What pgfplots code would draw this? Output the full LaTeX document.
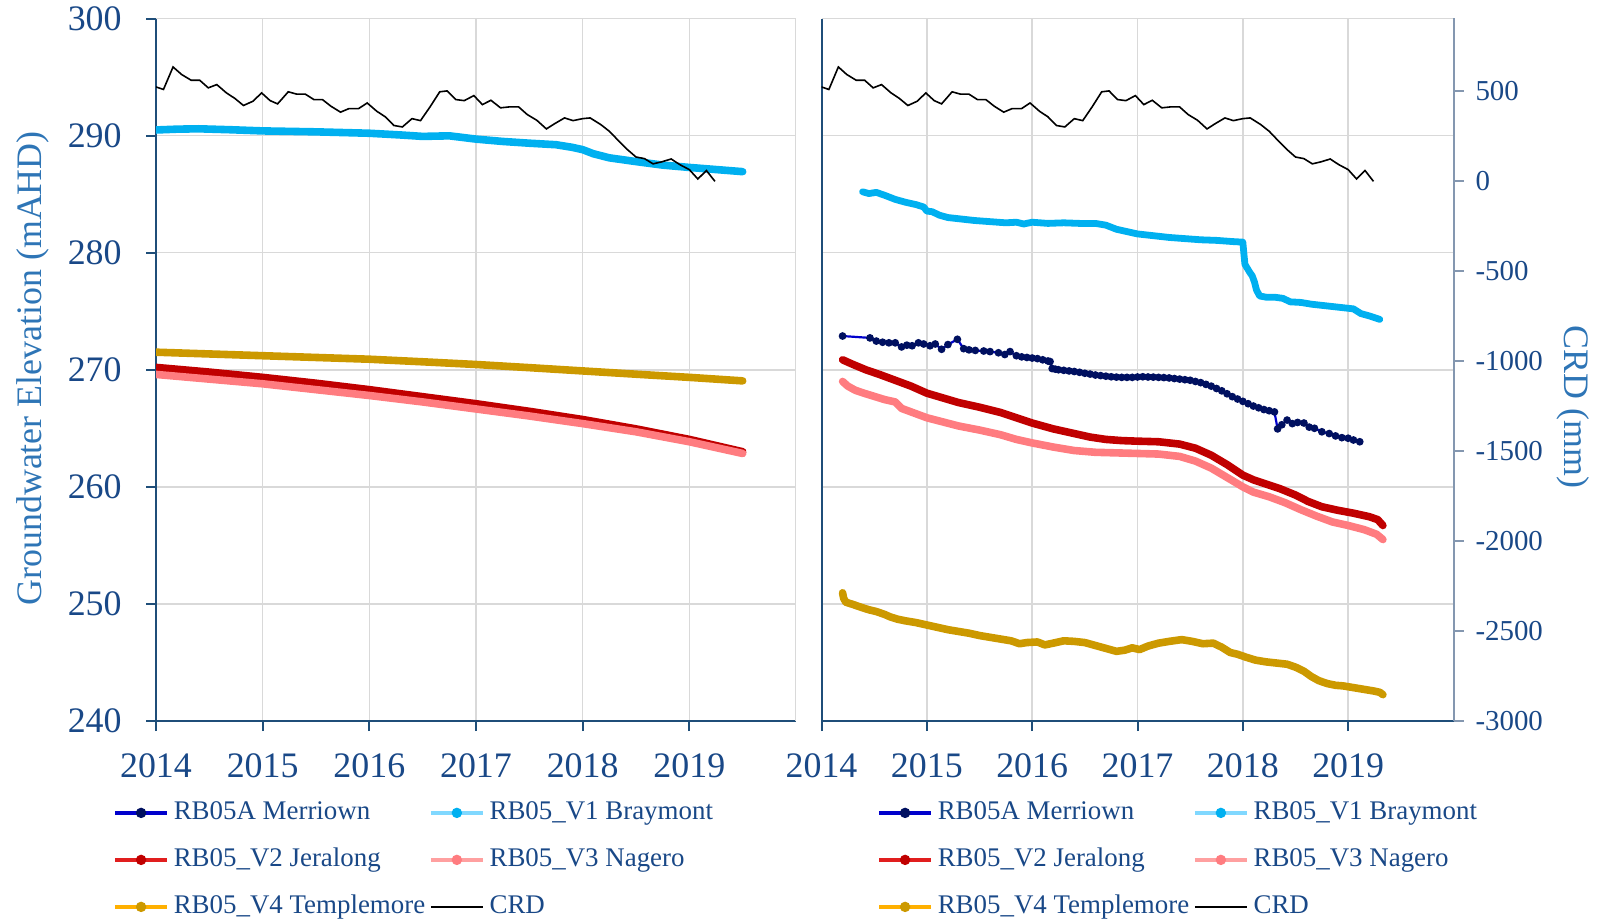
\documentclass[border=0pt]{standalone}
\usepackage{fontspec}
\setmainfont{Liberation Serif}
\usepackage{pgfplots}
\pgfplotsset{compat=1.18}
\definecolor{tickblue}{RGB}{25,72,135}
\definecolor{titleblue}{RGB}{46,117,182}
\definecolor{gridgray}{RGB}{217,217,217}
\definecolor{axisblue}{RGB}{31,78,121}
\definecolor{raxis}{RGB}{132,151,176}
\definecolor{cBray}{RGB}{0,176,240}
\definecolor{cBrayL}{RGB}{128,216,255}
\definecolor{cJer}{RGB}{192,0,0}
\definecolor{cJerL}{RGB}{225,30,30}
\definecolor{cNag}{RGB}{255,124,128}
\definecolor{cNagL}{RGB}{255,160,160}
\definecolor{cTem}{RGB}{204,153,0}
\definecolor{cTemL}{RGB}{255,176,0}
\definecolor{cMerM}{RGB}{0,16,96}
\definecolor{cMerL}{RGB}{0,0,204}

\pgfplotstableread{
x y
2014.00 520
2014.07 506
2014.16 631
2014.24 589
2014.33 557
2014.41 557
2014.49 515
2014.57 533
2014.66 487
2014.74 456
2014.82 417
2014.91 441
2014.99 487
2015.07 444
2015.14 426
2015.24 493
2015.32 480
2015.40 480
2015.48 450
2015.56 450
2015.64 413
2015.73 380
2015.81 400
2015.90 400
2015.98 431
2016.07 385
2016.15 354
2016.23 306
2016.31 298
2016.40 344
2016.48 333
2016.57 410
2016.66 493
2016.73 498
2016.81 450
2016.89 444
2016.98 472
2017.06 422
2017.14 446
2017.23 404
2017.31 409
2017.40 409
2017.48 367
2017.57 335
2017.66 287
2017.74 317
2017.83 348
2017.91 333
2018.00 344
2018.07 348
2018.17 311
2018.25 274
2018.34 219
2018.42 172
2018.50 131
2018.58 122
2018.66 93
2018.74 104
2018.83 120
2018.91 89
2019.00 61
2019.08 9
2019.16 56
2019.24 -4
}\crd

\pgfplotsset{
  base/.style={scale only axis, width=320bp, height=351.25bp,
    xmin=2014, xmax=2020, ymin=240, ymax=300,
    axis x line*=bottom, axis y line*=left,
    axis line style={axisblue, line width=1bp, -},
    xtick={2014,2015,2016,2017,2018,2019},
    xticklabels={2014,2015,2016,2017,2018,2019},
    ytick={240,250,260,270,280,290,300},
    grid=major, major grid style={gridgray, line width=0.8bp},
    tick align=outside, major tick length=5bp,
    tick style={axisblue, line width=1bp},
    tick label style={font=\fontsize{18}{18}\selectfont, text=tickblue},
    xticklabel style={yshift=-7.7bp},
    yticklabel style={xshift=-8.7bp},
    legend columns=2, legend cell align=left,
    legend style={draw=none, fill=none, anchor=north west,
      font=\fontsize{13.5}{13.5}\selectfont, text=tickblue, inner sep=0pt,
      row sep=12bp, nodes={inner sep=0pt, text height=9bp, text depth=2.5bp},
      /tikz/every odd column/.append style={column sep=2.5bp},
      /tikz/every even column/.append style={column sep=2bp}},
    legend image code/.code={\draw[mark repeat=2,mark phase=2,##1] plot coordinates {(0bp,0bp) (13bp,0bp) (26bp,0bp)};},
  },
  gw/.style={line width=3.8bp, line join=round, line cap=round, no markers, forget plot},
  sec/.style={scale only axis, height=351.25bp, xmin=2014, xmax=2020, ymin=-3000, ymax=900},
}
\newcommand{\legimgs}{%
  \addlegendimage{cMerL, line width=1.7bp, mark=*, mark size=1.7bp, mark options={fill=cMerM, draw=cMerM}}
  \addlegendentry{RB05A Merriown}
  \addlegendimage{cBrayL, line width=1.7bp, mark=*, mark size=1.7bp, mark options={fill=cBray, draw=cBray}}
  \addlegendentry{RB05\_V1 Braymont}
  \addlegendimage{cJerL, line width=1.7bp, mark=*, mark size=1.7bp, mark options={fill=cJer, draw=cJer}}
  \addlegendentry{RB05\_V2 Jeralong}
  \addlegendimage{cNagL, line width=1.7bp, mark=*, mark size=1.7bp, mark options={fill=cNag, draw=cNag}}
  \addlegendentry{RB05\_V3 Nagero}
  \addlegendimage{cTemL, line width=1.7bp, mark=*, mark size=1.7bp, mark options={fill=cTem, draw=cTem}}
  \addlegendentry{RB05\_V4 Templemore}
  \addlegendimage{black, line width=1.2bp}
  \addlegendentry{CRD}
}

\begin{document}
\begin{tikzpicture}
\useasboundingbox (-78bp,-99bp) rectangle (726bp,360.5bp);

% ---------------- Left panel ----------------
\begin{axis}[base, at={(0,0)},
  yticklabels={240,250,260,270,280,290,300},
  ylabel={Groundwater Elevation (mAHD)},
  ylabel style={at={(axis description cs:-0.192,0.502)}, anchor=center,
    font=\fontsize{18}{18}\selectfont, text=titleblue},
  legend style={at={(axis description cs:0,0)}, xshift=-21.5bp, yshift=-40bp}]
\legimgs
\draw[gridgray, line width=0.8bp] (axis cs:2020,240) -- (axis cs:2020,300);
\addplot[gw, cBray] coordinates {
(2014.0,290.48) (2014.2,290.55) (2014.4,290.58) (2014.7,290.5) (2015.0,290.4)
(2015.5,290.32) (2016.0,290.2) (2016.3,290.05) (2016.5,289.93) (2016.75,289.98)
(2017.0,289.7) (2017.25,289.5) (2017.5,289.35) (2017.75,289.22) (2017.9,289.0)
(2018.0,288.8) (2018.1,288.45) (2018.25,288.1) (2018.5,287.78) (2018.75,287.48)
(2019.0,287.28) (2019.25,287.1) (2019.5,286.92)};
\addplot[gw, cJer] coordinates {
(2014.0,270.2) (2014.5,269.8) (2015.0,269.35) (2015.5,268.85) (2016.0,268.3)
(2016.5,267.7) (2017.0,267.1) (2017.5,266.45) (2018.0,265.75) (2018.5,264.95)
(2019.0,264.05) (2019.5,263.0)};
\addplot[gw, cNag] coordinates {
(2014.0,269.6) (2014.5,269.2) (2015.0,268.8) (2015.5,268.3) (2016.0,267.8)
(2016.5,267.25) (2017.0,266.65) (2017.5,266.05) (2018.0,265.4) (2018.5,264.7)
(2019.0,263.85) (2019.5,262.85)};
\addplot[gw, cTem] coordinates {
(2014.0,271.5) (2014.5,271.35) (2015.0,271.2) (2015.5,271.05) (2016.0,270.9)
(2016.5,270.68) (2017.0,270.45) (2017.5,270.18) (2018.0,269.9) (2018.5,269.62)
(2019.0,269.35) (2019.5,269.05)};
\end{axis}
\begin{axis}[sec, at={(0,0)}, width=320bp, hide axis]
\addplot[black, line width=0.8bp, no markers] table[x=x,y=y] {\crd};
\end{axis}

% ---------------- Right panel ----------------
\begin{axis}[base, at={(332.75bp,0)}, width=316bp,
  yticklabels={}, every major y tick/.append style={draw=none},
  legend style={at={(axis description cs:0,0)}, xshift=27.75bp, yshift=-40bp}]
\legimgs
\addplot[cMerL, line width=1.1bp, mark=*, mark size=1.35bp,
  mark options={fill=cMerM, draw=cMerM}, forget plot] coordinates {
(2014.20,272.88) (2014.46,272.72) (2014.52,272.45) (2014.58,272.35) (2014.64,272.3)
(2014.70,272.3) (2014.76,271.95) (2014.81,272.1) (2014.86,272.05) (2014.92,272.3)
(2014.97,272.2) (2015.03,272.05) (2015.08,272.2) (2015.14,271.75) (2015.20,272.15)
(2015.29,272.6) (2015.35,271.8) (2015.40,271.7) (2015.46,271.65) (2015.54,271.6)
(2015.60,271.55) (2015.68,271.45) (2015.74,271.3) (2015.79,271.55) (2015.85,271.2)
(2015.90,271.1) (2015.95,271.05) (2016.00,271.0) (2016.05,270.95) (2016.10,270.85)
(2016.15,270.75) (2016.17,270.7) (2016.19,270.1) (2016.22,270.05) (2016.25,270.0) (2016.30,269.95)
(2016.35,269.9) (2016.40,269.85) (2016.45,269.78) (2016.50,269.7) (2016.55,269.63)
(2016.60,269.55) (2016.65,269.5) (2016.70,269.45) (2016.75,269.4) (2016.80,269.37)
(2016.85,269.35) (2016.90,269.35) (2016.95,269.35) (2017.00,269.38) (2017.05,269.4)
(2017.10,269.38) (2017.15,269.37) (2017.20,269.35) (2017.25,269.33) (2017.30,269.3)
(2017.35,269.25) (2017.40,269.2) (2017.45,269.15) (2017.50,269.1) (2017.55,269.0)
(2017.60,268.9) (2017.65,268.75) (2017.70,268.6) (2017.75,268.4) (2017.80,268.2)
(2017.85,267.95) (2017.90,267.7) (2017.95,267.5) (2018.00,267.3) (2018.05,267.1)
(2018.10,266.9) (2018.15,266.75) (2018.20,266.6) (2018.25,266.5) (2018.30,266.4)
(2018.33,264.95) (2018.37,265.3) (2018.42,265.7) (2018.47,265.4) (2018.52,265.5)
(2018.58,265.45) (2018.63,265.1) (2018.68,265.0) (2018.75,264.7) (2018.82,264.55)
(2018.88,264.35) (2018.94,264.2) (2019.00,264.15) (2019.05,264.0) (2019.11,263.85)};
\addplot[gw, cBray, line width=3.4bp] coordinates {
(2014.39,285.2) (2014.45,285.05) (2014.52,285.15) (2014.60,284.9) (2014.70,284.55)
(2014.80,284.3) (2014.90,284.1) (2014.97,283.9) (2015.00,283.55) (2015.05,283.5)
(2015.12,283.2) (2015.20,283.0) (2015.30,282.9) (2015.45,282.75) (2015.60,282.65)
(2015.75,282.55) (2015.85,282.6) (2015.92,282.45) (2016.00,282.6) (2016.15,282.5)
(2016.30,282.55) (2016.45,282.5) (2016.60,282.5) (2016.70,282.35) (2016.80,282.0)
(2016.90,281.8) (2017.00,281.6) (2017.15,281.45) (2017.30,281.3) (2017.45,281.2)
(2017.60,281.1) (2017.75,281.05) (2017.90,280.95) (2018.00,280.9) (2018.01,279.9)
(2018.02,279.0) (2018.04,278.7) (2018.06,278.4) (2018.09,278.0) (2018.11,277.5)
(2018.13,276.8) (2018.16,276.3) (2018.22,276.2) (2018.30,276.2) (2018.38,276.1)
(2018.45,275.8) (2018.55,275.75) (2018.65,275.6) (2018.80,275.45) (2018.95,275.3)
(2019.05,275.2) (2019.12,274.8) (2019.20,274.6) (2019.30,274.3)};
\addplot[gw, cJer] coordinates {
(2014.20,270.85) (2014.30,270.45) (2014.42,270.0) (2014.55,269.6) (2014.70,269.1)
(2014.85,268.6) (2015.00,268.0) (2015.15,267.6) (2015.30,267.2) (2015.50,266.8)
(2015.70,266.35) (2015.85,265.9) (2016.00,265.45) (2016.20,264.95) (2016.40,264.55)
(2016.55,264.25) (2016.70,264.05) (2016.85,263.95) (2017.00,263.9) (2017.20,263.85)
(2017.40,263.65) (2017.55,263.3) (2017.70,262.7) (2017.85,261.9) (2018.00,261.0)
(2018.10,260.6) (2018.20,260.3) (2018.35,259.85) (2018.50,259.3) (2018.62,258.75)
(2018.75,258.3) (2018.90,258.0) (2019.05,257.75) (2019.20,257.45) (2019.28,257.2)
(2019.33,256.7)};
\addplot[gw, cNag] coordinates {
(2014.20,269.0) (2014.25,268.6) (2014.32,268.25) (2014.42,267.95) (2014.51,267.7)
(2014.60,267.45) (2014.70,267.25) (2014.76,266.7) (2014.88,266.3) (2015.00,265.9)
(2015.15,265.55) (2015.30,265.2) (2015.50,264.85) (2015.70,264.45) (2015.85,264.05)
(2016.00,263.75) (2016.20,263.4) (2016.40,263.1) (2016.60,262.95) (2016.80,262.9)
(2017.00,262.85) (2017.20,262.8) (2017.40,262.6) (2017.55,262.2) (2017.70,261.6)
(2017.85,260.8) (2018.00,260.0) (2018.10,259.55) (2018.25,259.15) (2018.40,258.65)
(2018.55,258.05) (2018.70,257.5) (2018.85,257.0) (2019.00,256.7) (2019.15,256.35)
(2019.27,255.95) (2019.33,255.5)};
\addplot[gw, cTem] coordinates {
(2014.20,250.95) (2014.21,250.5) (2014.23,250.15) (2014.30,249.95) (2014.38,249.7)
(2014.45,249.5) (2014.52,249.35) (2014.60,249.1) (2014.65,248.9) (2014.72,248.7)
(2014.80,248.55) (2014.90,248.4) (2015.00,248.2) (2015.10,248.0) (2015.20,247.8)
(2015.30,247.65) (2015.40,247.5) (2015.50,247.3) (2015.60,247.15) (2015.70,247.0)
(2015.80,246.85) (2015.88,246.6) (2015.95,246.7) (2016.05,246.75) (2016.12,246.5)
(2016.20,246.65) (2016.30,246.85) (2016.40,246.8) (2016.50,246.7) (2016.60,246.45)
(2016.70,246.2) (2016.80,245.95) (2016.88,246.05) (2016.95,246.25) (2017.02,246.1)
(2017.10,246.4) (2017.20,246.65) (2017.30,246.8) (2017.42,246.95) (2017.52,246.8)
(2017.62,246.6) (2017.72,246.65) (2017.80,246.3) (2017.88,245.85) (2017.95,245.7)
(2018.03,245.45) (2018.12,245.2) (2018.22,245.05) (2018.32,244.95) (2018.42,244.85)
(2018.50,244.6) (2018.58,244.25) (2018.65,243.8) (2018.72,243.45) (2018.80,243.2)
(2018.88,243.05) (2018.95,243.0) (2019.05,242.85) (2019.15,242.7) (2019.25,242.55)
(2019.30,242.45) (2019.33,242.25)};
\end{axis}
\begin{axis}[sec, at={(332.75bp,0)}, width=316bp,
  axis x line=none, axis y line*=right,
  axis line style={raxis, line width=1bp, -},
  ytick={-3000,-2500,-2000,-1500,-1000,-500,0,500},
  yticklabels={-3000,-2500,-2000,-1500,-1000,-500,0,500},
  tick align=outside, major tick length=5bp,
  tick style={raxis, line width=1bp},
  tick label style={font=\fontsize{14.5}{14.5}\selectfont, text=tickblue},
  yticklabel style={xshift=2.5bp},
  ylabel={CRD (mm)},
  ylabel style={at={(axis description cs:1.19,0.447)}, anchor=center, rotate=180,
    font=\fontsize{18}{18}\selectfont, text=titleblue}]
\addplot[black, line width=0.8bp, no markers] table[x=x,y=y] {\crd};
\end{axis}
\end{tikzpicture}
\end{document}
